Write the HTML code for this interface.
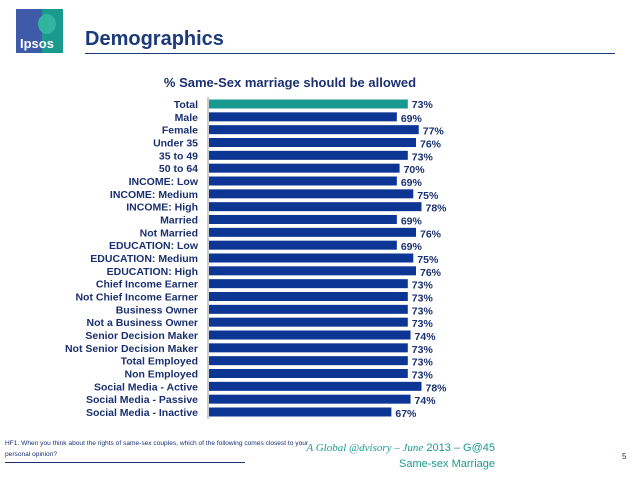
<!DOCTYPE html>
<html><head><meta charset="utf-8"><style>
body{margin:0;width:638px;height:479px;background:#fff;overflow:hidden;font-family:"Liberation Sans",sans-serif;position:relative}
.abs{position:absolute}
</style></head><body>
<div class="abs" style="left:16px;top:9px;width:47px;height:44px;background:linear-gradient(90deg,#3f5aa8 0 55%,#1a9a8e 55%);overflow:hidden">
<div class="abs" style="left:22px;top:5px;width:18px;height:20px;border-radius:50%;background:#2fb5a0"></div>
<div class="abs" style="left:4px;top:27px;color:#fff;font-weight:bold;font-size:13px">Ipsos</div></div>
<div class="abs" style="left:85px;top:28px;font-size:20px;font-weight:bold;color:#1a3a7a">Demographics</div>
<div class="abs" style="left:85px;top:53px;width:530px;height:1px;background:#1a3a7a"></div>
<svg class="abs" style="left:0;top:0" width="638" height="479">
<text x="290" y="87" text-anchor="middle" font-weight="bold" font-size="13" fill="#1a3070">% Same-Sex marriage should be allowed</text>
<line x1="208" y1="97" x2="208" y2="419" stroke="#999" stroke-width="1"/>
<g id="bars"></g>
</svg>
<div class="abs" style="left:5px;top:438px;font-size:6.6px;color:#1a3070;line-height:11px;white-space:nowrap">HF1. When you think about the rights of same-sex couples, which of the following comes closest to your<br>personal opinion?</div>
<div class="abs" style="left:5px;top:462px;width:240px;height:1px;background:#1a3070"></div>
<div class="abs" style="right:143px;top:440px;text-align:right;font-size:11px;color:#1a9a8e;line-height:16px"><span style="font-family:'Liberation Serif',serif;font-style:italic">A Global @dvisory – June</span> 2013 – G@45<br>Same-sex Marriage</div>
<div class="abs" style="left:622px;top:452px;font-size:8px;color:#1a3070">5</div>
<script>
const categories=["Total","Male","Female","Under 35","35 to 49","50 to 64","INCOME: Low","INCOME: Medium","INCOME: High","Married","Not Married","EDUCATION: Low","EDUCATION: Medium","EDUCATION: High","Chief Income Earner","Not Chief Income Earner","Business Owner","Not a Business Owner","Senior Decision Maker","Not Senior Decision Maker","Total Employed","Non Employed","Social Media - Active","Social Media - Passive","Social Media - Inactive"];
const values=[73,69,77,76,73,70,69,75,78,69,76,69,75,76,73,73,73,73,74,73,73,73,78,74,67];
const g=document.getElementById('bars');
const NS="http://www.w3.org/2000/svg";
const x0=208,k=2.737,y0=104,step=(412-104)/(categories.length-1);
function xs(v){return x0+v*k;}
function ys(i){return y0+i*step;}
categories.forEach((c,i)=>{
 const y=ys(i);
 const r=document.createElementNS(NS,'rect');
 r.setAttribute('x',x0+1);r.setAttribute('y',y-4.5);r.setAttribute('width',xs(values[i])-x0-1);r.setAttribute('height',9);
 r.setAttribute('fill',i===0?'#1a9a8e':'#0d3694');
 
 
 g.appendChild(r);
 const t=document.createElementNS(NS,'text');
 t.setAttribute('x',198);t.setAttribute('y',y+4);t.setAttribute('text-anchor','end');
 t.setAttribute('font-size','10.5');t.setAttribute('font-weight','bold');t.setAttribute('fill','#1a3070');
 t.textContent=c;
 
 
 g.appendChild(t);
 const v=document.createElementNS(NS,'text');
 v.setAttribute('x',xs(values[i])+4);v.setAttribute('y',y+4+(i===0?0:1));
 v.setAttribute('font-size','10.5');v.setAttribute('font-weight','bold');v.setAttribute('fill','#1a3070');
 v.textContent=values[i]+'%';
 
 
 g.appendChild(v);
});
</script>
</body></html>
